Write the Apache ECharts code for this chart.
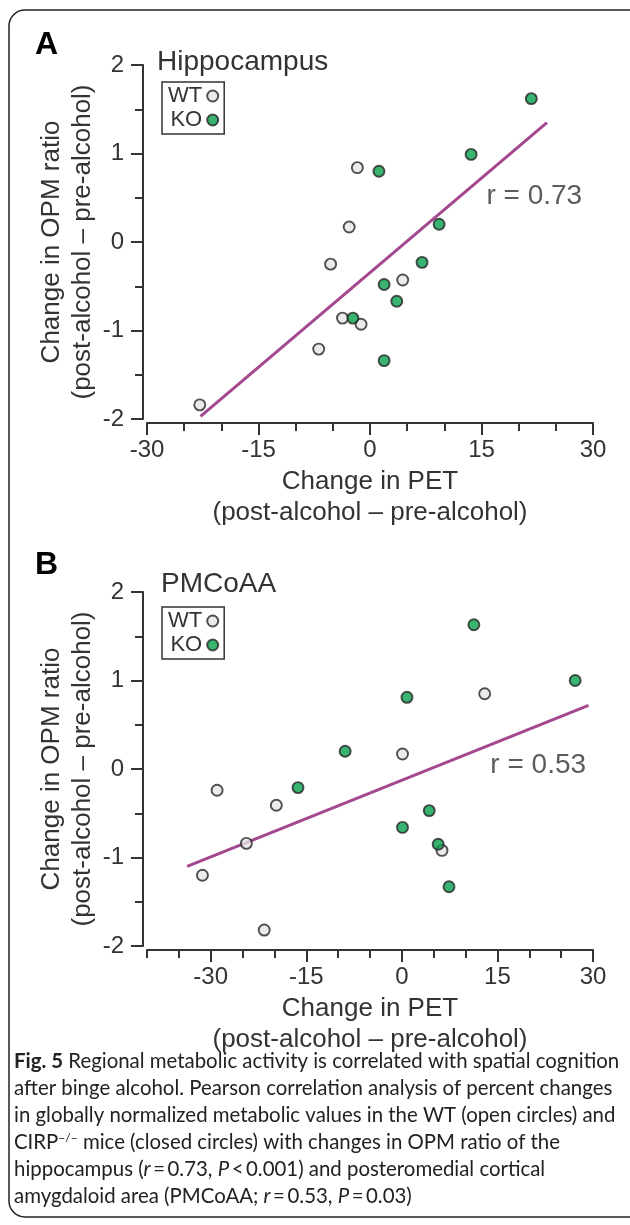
<!DOCTYPE html>
<html><head><meta charset="utf-8">
<script src="https://cdn.jsdelivr.net/npm/echarts@6/dist/echarts.min.js"></script>
<style>html,body{margin:0;padding:0;background:#fff}#c{width:630px;height:1225px}</style>
</head><body><div id="c"></div>
<script>
// ---------- data ----------
const panelLetters = ['A', 'B'];
const panelTitles = ['Hippocampus', 'PMCoAA'];
const groupNames = ['WT', 'KO'];
const xTickLabels = [-30, -15, 0, 15, 30];
const xRangeA = [-30, 30];
const xRangeB = [-40, 30];
const yRange = [-2, 2];

// Panel A (Hippocampus)
const wtA_x = [-22.9, -1.7, -2.8, -5.3, 4.4, -3.7, -1.2, -6.9];
const wtA_y = [-1.84, 0.84, 0.17, -0.25, -0.43, -0.86, -0.93, -1.21];
const koA_x = [21.7, 13.6, 1.2, 9.3, 7.0, 1.9, 3.6, -2.3, 1.9];
const koA_y = [1.62, 0.99, 0.80, 0.20, -0.23, -0.48, -0.67, -0.86, -1.34];
const fitA_x = [-22.8, 23.8];
const fitA_y = [-1.97, 1.35];

// Panel B (PMCoAA)
const wtB_x = [-29.0, -19.7, -24.4, -31.3, -21.6, 0.1, 13.0, 6.3];
const wtB_y = [-0.24, -0.41, -0.84, -1.20, -1.82, 0.17, 0.85, -0.92];
const koB_x = [11.3, 27.2, 0.8, -8.9, -16.3, 4.3, 0.1, 5.7, 7.4];
const koB_y = [1.63, 1.00, 0.81, 0.20, -0.21, -0.47, -0.66, -0.85, -1.33];
const fitB_x = [-33.7, 29.3];
const fitB_y = [-1.10, 0.72];

const rTexts = ['r = 0.73', 'r = 0.53'];
const rAt_x = [22.1, 21.4];
const rAt_y = [0.52, 0.04];

const xTitle = 'Change in PET\n(post-alcohol \u2013 pre-alcohol)';
const yTitle = 'Change in OPM ratio\n(post-alcohol \u2013 pre-alcohol)';

const captionLines = [
  '{b|Fig. 5} Regional metabolic activity is correlated with spatial cognition',
  'after binge alcohol. Pearson correlation analysis of percent changes',
  'in globally normalized metabolic values in the WT (open circles) and',
  'CIRP{sup|\u2212/\u2212} mice (closed circles) with changes in OPM ratio of the',
  'hippocampus ({i|r}\u2009=\u20090.73, {i|P}\u2009<\u20090.001) and posteromedial cortical',
  'amygdaloid area (PMCoAA; {i|r}\u2009=\u20090.53, {i|P}\u2009=\u20090.03)'
];

// ---------- styling ----------
const FONT = 'Liberation Sans, Arial, sans-serif';
const CAPFONT = 'Lato, Open Sans, sans-serif';
const CAPSIZE = 20.4;
const INK = '#333';
const zip = (a, b) => a.map((v, i) => [v, b[i]]);

const grids = [
  { left: 147, right: 37, top: 65, height: 354 },
  { left: 147, right: 37, top: 592, height: 354 }
];
const xRanges = [xRangeA, xRangeB];

const xAxes = [], yAxes = [];
[0, 1].forEach(g => {
  xAxes.push({
    type: 'value', gridIndex: g, min: xRanges[g][0], max: xRanges[g][1], interval: 5,
    position: 'bottom', offset: 4,
    axisLine: { show: true, onZero: false, lineStyle: { color: INK, width: 2 } },
    axisTick: { show: true, length: 12, customValues: xTickLabels, lineStyle: { color: INK, width: 2 } },
    axisLabel: { customValues: xTickLabels, fontSize: 24, color: INK, fontFamily: FONT, margin: 15,
      formatter: v => (v % 15 === 0 ? String(v) : '') },
    splitLine: { show: false },
    name: xTitle, nameLocation: 'middle', nameGap: 43, nameMoveOverlap: false,
    nameTextStyle: { fontSize: 26, lineHeight: 31, color: INK, fontFamily: FONT }
  });
  xAxes.push({
    type: 'value', gridIndex: g, min: xRanges[g][0], max: xRanges[g][1], interval: 5,
    position: 'bottom', offset: 4,
    axisLine: { show: false, onZero: false },
    axisTick: { show: true, length: 8, lineStyle: { color: INK, width: 2 } },
    axisLabel: { show: false },
    splitLine: { show: false }
  });
  yAxes.push({
    type: 'value', gridIndex: g, min: yRange[0], max: yRange[1], interval: 1,
    position: 'left', offset: 4,
    axisLine: { show: true, onZero: false, lineStyle: { color: INK, width: 2 } },
    axisTick: { show: true, length: 12, lineStyle: { color: INK, width: 2 } },
    minorTick: { show: true, splitNumber: 2, length: 8, lineStyle: { color: INK, width: 2 } },
    axisLabel: { fontSize: 24, color: INK, fontFamily: FONT, margin: 19 },
    splitLine: { show: false },
    name: yTitle, nameLocation: 'middle', nameGap: 45, nameMoveOverlap: false,
    nameTextStyle: { fontSize: 26, lineHeight: 31, color: INK, fontFamily: FONT }
  });
});

const wtStyle = { color: '#e6e6e6', borderColor: '#262626', borderWidth: 1.9 };
const koStyle = { color: '#07a04c', borderColor: '#262626', borderWidth: 1.9 };
const fitColor = '#a3478f';

const panelData = [
  { wt: zip(wtA_x, wtA_y), ko: zip(koA_x, koA_y), fit: zip(fitA_x, fitA_y) },
  { wt: zip(wtB_x, wtB_y), ko: zip(koB_x, koB_y), fit: zip(fitB_x, fitB_y) }
];

const series = [];
panelData.forEach((p, g) => {
  const xi = g * 2, yi = g;
  series.push({ type: 'line', name: 'fit' + g, xAxisIndex: xi, yAxisIndex: yi, data: p.fit,
    showSymbol: false, symbol: 'none', lineStyle: { color: fitColor, width: 3 }, z: 2, silent: true });
  series.push({ type: 'scatter', name: groupNames[0], xAxisIndex: xi, yAxisIndex: yi, data: p.wt,
    symbol: 'circle', symbolSize: 11, itemStyle: wtStyle, z: 3 });
  series.push({ type: 'scatter', name: groupNames[1], xAxisIndex: xi, yAxisIndex: yi, data: p.ko,
    symbol: 'circle', symbolSize: 11, itemStyle: koStyle, z: 3 });
  series.push({ type: 'scatter', name: 'r' + g, xAxisIndex: xi, yAxisIndex: yi,
    data: [[rAt_x[g], rAt_y[g]]], symbolSize: 0, silent: true,
    label: { show: true, position: 'inside', formatter: rTexts[g], fontSize: 28, color: INK, fontFamily: FONT } });
});

const legendTops = [82, 607];
const legends = legendTops.map(t => ({
  data: groupNames, orient: 'vertical', left: 162, top: t, align: 'right',
  icon: 'circle', itemWidth: 11, itemHeight: 11, itemGap: 2,
  padding: [3, 5, 3, 6], borderColor: INK, borderWidth: 1.5, selectedMode: false,
  textStyle: { fontSize: 22, color: INK, fontFamily: FONT, lineHeight: 21 }
}));

const graphics = [
  { type: 'rect', shape: { x: 9, y: 10, width: 660, height: 1207, r: 16 },
    style: { fill: 'none', stroke: '#222', lineWidth: 1.5 }, silent: true },
  { type: 'text', left: 35, top: 29, style: { text: panelLetters[0], font: 'bold 32px ' + FONT, fill: '#000' } },
  { type: 'text', left: 157, top: 48, style: { text: panelTitles[0], font: '28px ' + FONT, fill: INK } },
  { type: 'text', left: 35, top: 549, style: { text: panelLetters[1], font: 'bold 32px ' + FONT, fill: '#000' } },
  { type: 'text', left: 161, top: 570, style: { text: panelTitles[1], font: '28px ' + FONT, fill: INK } }
];
const capRich = {
  b: { fontWeight: 'bold', fontSize: CAPSIZE, fontFamily: CAPFONT, fill: '#222' },
  i: { fontStyle: 'italic', fontSize: CAPSIZE, fontFamily: CAPFONT, fill: '#222' },
  sup: { fontSize: 12, fontFamily: CAPFONT, fill: '#222', verticalAlign: 'top', padding: [0, 0, 8, 0] }
};
captionLines.forEach((ln, i) => {
  graphics.push({ type: 'text', left: 14, top: 1051 + i * 27,
    style: { text: ln, font: CAPSIZE + 'px ' + CAPFONT, fill: '#222', rich: capRich } });
});

const chart = echarts.init(document.getElementById('c'), null, { renderer: 'canvas' });
chart.setOption({
  backgroundColor: '#fff',
  animation: false,
  grid: grids,
  xAxis: xAxes,
  yAxis: yAxes,
  legend: legends,
  series: series,
  graphic: graphics
});
</script>
</body></html>
